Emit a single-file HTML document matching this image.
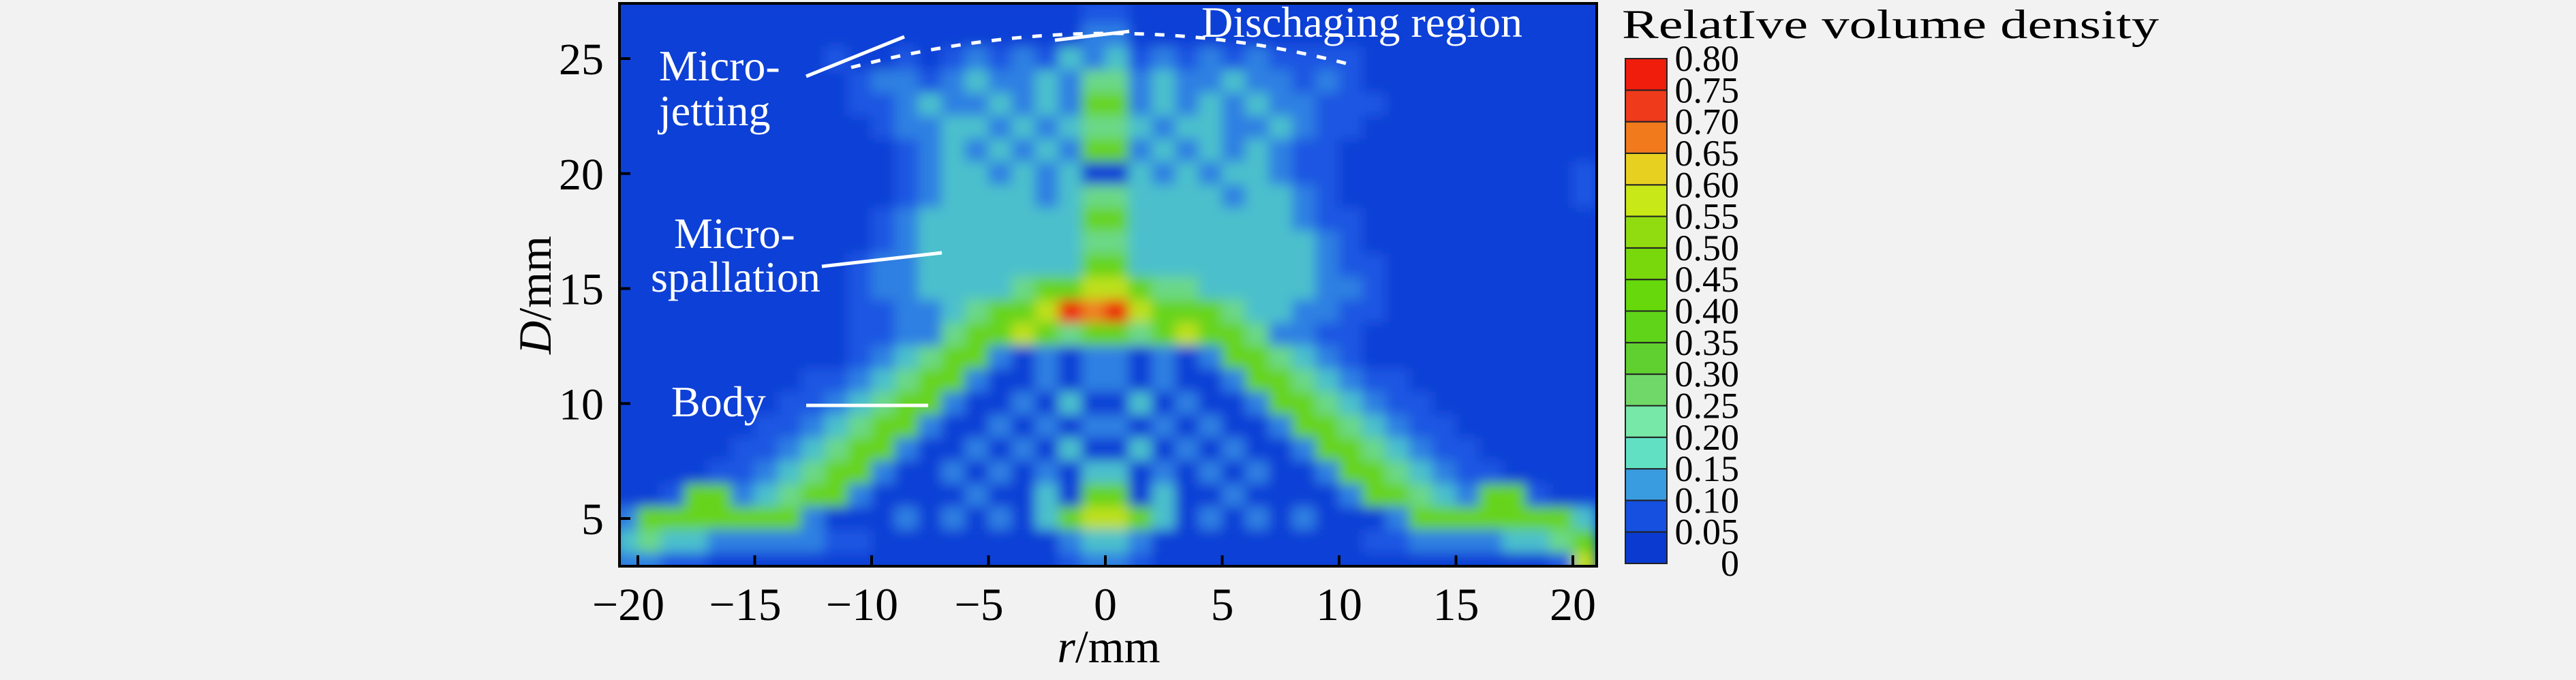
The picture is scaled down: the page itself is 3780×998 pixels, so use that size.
<!DOCTYPE html>
<html><head><meta charset="utf-8">
<style>
html,body{margin:0;padding:0;background:#f2f2f2;}
svg{display:block;}
text{font-family:"Liberation Serif",serif;}
</style></head>
<body>
<svg id="chart" width="3780" height="998" viewBox="0 0 3780 998" xmlns="http://www.w3.org/2000/svg">
<defs>
<clipPath id="plotClip"><rect x="909" y="5" width="1434" height="826"/></clipPath>
<filter id="blur" x="-5%" y="-5%" width="110%" height="110%"><feGaussianBlur stdDeviation="9" edgeMode="duplicate"/></filter>
</defs>
<rect x="0" y="0" width="3780" height="998" fill="#f2f2f2"/>
<g id="heat" clip-path="url(#plotClip)">
<rect x="909" y="5" width="1434" height="826" fill="#0b3fd6"/>
<g id="cells" filter="url(#blur)"></g>
</g>
<g id="annot"></g>
<g id="axes"></g>
<g id="cbar"></g>
</svg>
<script>
// ---- data ----
const rMin = -21, rMax = 21;
const dTop = 27, dBottom = 3;
const levelValues = [0.04, 0.09, 0.15, 0.20, 0.30, 0.45, 0.60, 0.70, 0.80];
const densityRows = [
"000000000000000000001"+"100000000000000000000",
"000000000000000000002"+"200000000000000000000",
"000000000100101212132"+"312121211110000000000",
"000000000012212322324"+"423223221210000000000",
"000000000011232232325"+"523232322111000000000",
"000000000001223323234"+"432332232110000000000",
"000000000000123232325"+"523232321100000000000",
"000000000000123323230"+"032323321100000000001",
"000000000000123333234"+"433332332100000000001",
"000000000001233333335"+"533333332110000000000",
"000000000001233333334"+"433333333210000000000",
"000000000012233333335"+"533333333211000000000",
"000000000012233334556"+"654433333221000000000",
"000000000011223455687"+"865554332211000000000",
"000000000011224556545"+"545655422110000000000",
"000000000012345520202"+"202025543210000000000",
"000000001123455200202"+"202002554321100000000",
"000000011234552002030"+"030200255432110000000",
"000000112345520020202"+"202020025543211000000",
"000001123455200202030"+"030202002554321100000",
"000011234552002020203"+"302020200255432110000",
"001552345520000200305"+"503002000025543255100",
"255555552000202020356"+"653020202000255555553",
"343322222110000000023"+"320000000001122223345",
"221100000000000000012"+"210000000000000000016"
];
const xTicks = [-20,-15,-10,-5,0,5,10,15,20];
const xTickLabels = ["\u221220","\u221215","\u221210","\u22125","0","5","10","15","20"];
const yTicks = [5,10,15,20,25];
const yTickLabels = ["5","10","15","20","25"];
const cbarLevels = [0,0.05,0.10,0.15,0.20,0.25,0.30,0.35,0.40,0.45,0.50,0.55,0.60,0.65,0.70,0.75,0.80];
const cbarLabels = ["0","0.05","0.10","0.15","0.20","0.25","0.30","0.35","0.40","0.45","0.50","0.55","0.60","0.65","0.70","0.75","0.80"];

// ---- scales / styles ----
const X0=936, X1=2308, Y5=761, Y25=86;
function xs(r){return X0+(r+20)*(X1-X0)/40;}
function ys(d){return Y5-(d-5)*(Y5-Y25)/20;}
const CB_TOP=86, CB_BOT=827;
function cbY(v){return CB_BOT-(v/0.8)*(CB_BOT-CB_TOP);}
function heatColor(v){
  const stops=[[0,"#0b3fd6"],[0.09,"#1a56e2"],[0.15,"#2d80e2"],[0.2,"#4cc0cc"],[0.3,"#6ad888"],[0.45,"#66d41c"],[0.6,"#bee01a"],[0.7,"#f08020"],[0.8,"#ee1c10"]];
  let best=stops[0][1];
  for(const s of stops){ if(v>=s[0]-1e-9) best=s[1]; }
  return best;
}
const bandPalette=["#0a3ad0","#1550e0","#3a9ce0","#62e0c4","#78e8a8","#70d868","#60d030","#60d418","#66d80c","#78d80c","#90dc10","#c8e818","#e8d020","#f07a1c","#f03a1c","#f01c0c"];
const NS="http://www.w3.org/2000/svg";
function mk(tag,attrs,parent){const e=document.createElementNS(NS,tag);for(const k in attrs)e.setAttribute(k,attrs[k]);parent.appendChild(e);return e;}

// ---- heatmap cells ----
const cells=document.getElementById('cells');
densityRows.forEach((row,ri)=>{
  const d=dTop-ri;
  for(let c=0;c<row.length;c++){
    const v=levelValues[+row[c]];
    const r0=rMin+c;
    const e=mk('rect',{x:xs(r0)-0.5,y:ys(d+0.5)-0.5,width:xs(r0+1)-xs(r0)+1,height:ys(d-0.5)-ys(d+0.5)+1,fill:heatColor(v)},cells);
    
    
  }
});

// ---- axes ----
const axes=document.getElementById('axes');
const frame=mk('rect',{x:909,y:5,width:1434,height:826,fill:'none',stroke:'#000','stroke-width':4},axes);


xTicks.forEach((t,i)=>{
  const tk=mk('line',{x1:xs(t),x2:xs(t),y1:829,y2:815,stroke:'#000','stroke-width':4},axes);
  
  
  const lb=mk('text',{x:xs(t)-(t<0?14:0),y:910,'font-size':68,'text-anchor':'middle',fill:'#000'},axes);
  lb.textContent=xTickLabels[i];
  
  
});
yTicks.forEach((t,i)=>{
  const tk=mk('line',{x1:911,x2:925,y1:ys(t),y2:ys(t),stroke:'#000','stroke-width':4},axes);
  
  
  const lb=mk('text',{x:886,y:ys(t)+23,'font-size':66,'text-anchor':'end',fill:'#000'},axes);
  lb.textContent=yTickLabels[i];
  
  
});
const xt=mk('text',{x:1627,y:972,'font-size':68,'text-anchor':'middle',fill:'#000'},axes);
xt.innerHTML='<tspan font-style="italic">r</tspan>/mm';


const yt=mk('text',{x:0,y:0,'font-size':68,'text-anchor':'middle',fill:'#000',transform:'translate(808,433) rotate(-90)'},axes);
yt.innerHTML='<tspan font-style="italic">D</tspan>/mm';



// ---- annotations ----
const an=document.getElementById('annot');
const texts=[["Micro-",967,118,"microjetting-label-1"],["jetting",967,184,"microjetting-label-2"],["Micro-",989,364,"microspallation-label-1"],["spallation",955,428,"microspallation-label-2"],["Body",985,611,"body-label"],["Dischaging region",1763,54,"discharging-region-label"]];
texts.forEach(t=>{
  const e=mk('text',{x:t[1],y:t[2],'font-size':64,fill:'#fff'},an);
  e.textContent=t[0];
  
  
});
const lines=[[1183,112,1327,54,"microjetting-pointer"],[1206,391,1382,371,"microspallation-pointer"],[1183,595,1362,595,"body-pointer"],[1548,59,1657,46,"discharging-pointer"]];
lines.forEach(l=>{
  const e=mk('line',{x1:l[0],y1:l[1],x2:l[2],y2:l[3],stroke:'#fff','stroke-width':5},an);
  
  
});
const dash=mk('path',{d:'M1249,99 Q1630,0 1990,97',fill:'none',stroke:'#fff','stroke-width':5,'stroke-dasharray':'14 16'},an);



// ---- colorbar ----
const cb=document.getElementById('cbar');
for(let i=0;i<cbarLevels.length-1;i++){
  const v0=cbarLevels[i], v1=cbarLevels[i+1];
  const e=mk('rect',{x:2385,y:cbY(v1),width:61,height:cbY(v0)-cbY(v1),fill:bandPalette[i],stroke:'#222','stroke-width':2},cb);
  
  
}
cbarLevels.forEach((v,i)=>{
  const e=mk('text',{x:2552,y:cbY(v)+18,'font-size':54,'text-anchor':'end',fill:'#000'},cb);
  e.textContent=cbarLabels[i];
  
  
});
const ct=mk('text',{x:2380,y:56,'font-size':60,fill:'#000',textLength:788,lengthAdjust:'spacingAndGlyphs'},cb);
ct.textContent='RelatIve volume density';


</script>
</body></html>
